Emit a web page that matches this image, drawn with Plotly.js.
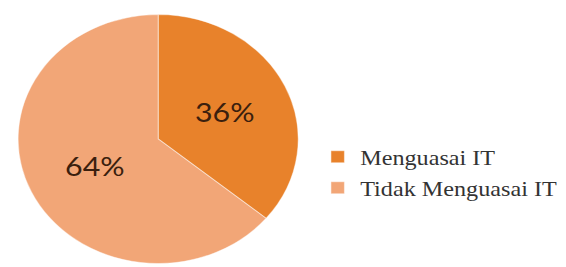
<!DOCTYPE html>
<html>
<head>
<meta charset="utf-8">
<script src="https://cdn.plot.ly/plotly-3.0.1.min.js"></script>
<style>
  html, body { margin: 0; padding: 0; background: #ffffff; overflow: hidden; }
  #wrap { width: 566px; height: 267px; overflow: hidden; }
  #chart { width: 503px; height: 267px; transform: scaleX(1.125); transform-origin: 0 0; }
</style>
</head>
<body>
<div id="wrap"><div id="chart"></div></div>
<script>
const labels = ['Menguasai IT', 'Tidak Menguasai IT'];
const values = [36, 64];
const textLabels = ['36%', '64%'];
const colors = ['#E8822B', '#F2A677'];

const trace = {
  type: 'pie',
  labels: labels,
  values: values,
  text: textLabels,
  textinfo: 'text',
  textposition: 'inside',
  insidetextorientation: 'horizontal',
  sort: false,
  direction: 'clockwise',
  rotation: 0,
  marker: { colors: colors, line: { color: 'rgba(255,255,255,0.45)', width: 1 } },
  textfont: { family: 'Lato, "Open Sans", sans-serif', size: 27, color: '#3b1f0e' },
  domain: { x: [0.032, 0.527], y: [0.013, 0.946] },
  hoverinfo: 'none'
};

const layout = {
  width: 503,
  height: 267,
  margin: { l: 0, r: 0, t: 0, b: 0 },
  paper_bgcolor: '#ffffff',
  showlegend: true,
  legend: {
    x: 0.557, xanchor: 'left',
    y: 0.355, yanchor: 'middle',
    font: { family: '"Liberation Serif", "Times New Roman", serif', size: 21.5, color: '#333333' },
    bgcolor: 'rgba(0,0,0,0)',
    tracegroupgap: 0
  }
};

Plotly.newPlot('chart', [trace], layout, { displayModeBar: false, staticPlot: true });
</script>
</body>
</html>
